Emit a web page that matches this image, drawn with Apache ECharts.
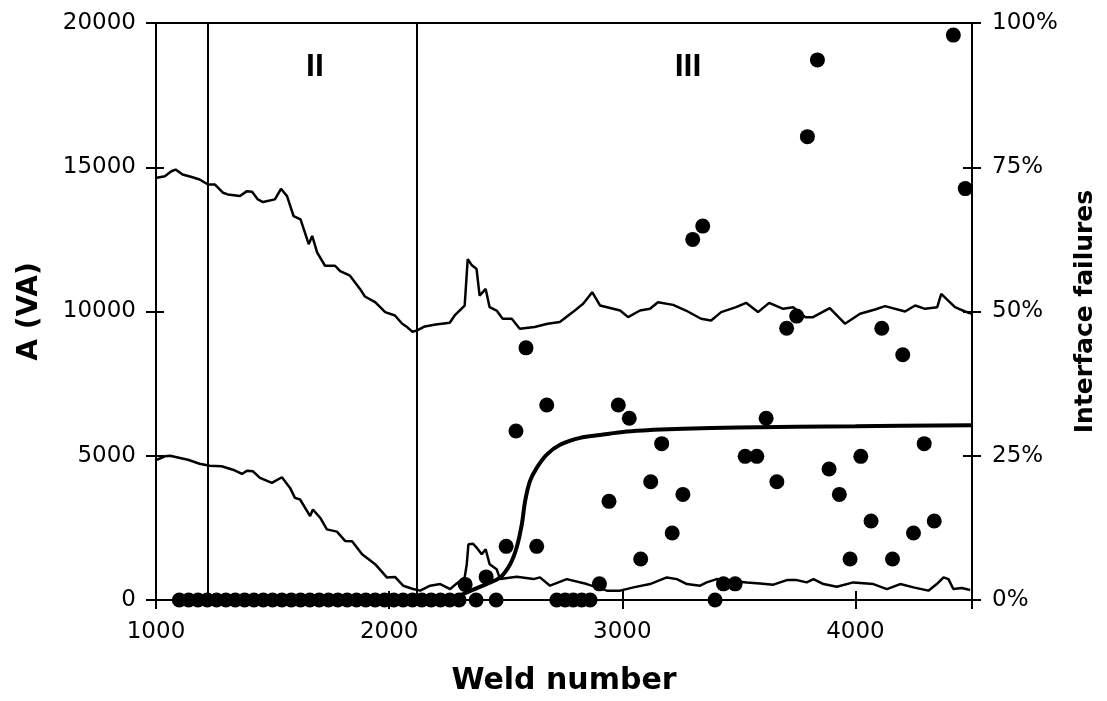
<!DOCTYPE html>
<html>
<head>
<meta charset="utf-8">
<script src="https://cdn.jsdelivr.net/npm/echarts@6/dist/echarts.min.js"></script>
<style>html,body{margin:0;padding:0;background:#fff;}#c{width:1107px;height:701px;}</style>
</head>
<body>
<div id="c"></div>
<script>
// ---- data ----
const xTicks = [1000, 2000, 3000, 4000];
const leftTicks = [0, 5000, 10000, 15000, 20000];
const rightTicks = ['0%', '25%', '50%', '75%', '100%'];

const regionBoundaries = [1224, 2120];
const regionLabels = ['II', 'III'];
const regionLabelX = [1682, 3282];
const regionLabelY = [18472, 18472];

// upper A trace (VA)
const upperA = [
 [1004,14634],[1038,14690],[1066,14862],[1084,14920],[1114,14748],[1157,14655],[1187,14576],[1223,14403],
 [1252,14403],[1287,14117],[1308,14059],[1360,14000],[1390,14172],[1412,14150],[1437,13886],[1459,13793],
 [1510,13886],[1536,14253],[1562,14000],[1590,13310],[1620,13195],[1655,12334],[1670,12620],[1691,12046],
 [1725,11586],[1768,11586],[1790,11400],[1832,11241],[1875,10783],[1896,10520],[1940,10323],[1983,9979],
 [2025,9862],[2056,9576],[2077,9460],[2100,9300],[2120,9345],[2153,9483],[2200,9550],[2260,9610],
 [2281,9862],[2324,10207],[2337,11817],[2355,11600],[2375,11472],[2388,10552],[2414,10783],[2431,10150],
 [2461,10034],[2487,9748],[2526,9748],[2560,9403],[2624,9460],[2680,9576],[2732,9633],[2788,9979],
 [2832,10266],[2871,10669],[2905,10207],[2991,10034],[3025,9805],[3076,10034],[3119,10093],[3153,10323],
 [3218,10230],[3273,10034],[3338,9748],[3381,9690],[3424,9979],[3488,10150],[3531,10300],[3582,9979],
 [3630,10300],[3690,10093],[3733,10150],[3785,9805],[3818,9805],[3890,10116],[3955,9576],[4020,9920],
 [4084,10070],[4127,10185],[4213,10000],[4256,10207],[4299,10093],[4351,10150],[4368,10610],[4398,10380],
 [4427,10150],[4470,10000],[4500,9920]
];

// lower A trace (VA)
const lowerA = [
 [1004,4862],[1038,4979],[1060,5000],[1137,4862],[1187,4724],[1230,4655],[1281,4634],[1330,4517],
 [1369,4369],[1390,4483],[1416,4460],[1446,4231],[1497,4059],[1540,4255],[1575,3886],[1596,3541],
 [1618,3483],[1661,2910],[1673,3138],[1704,2852],[1733,2448],[1776,2369],[1811,2048],[1841,2035],
 [1884,1586],[1940,1241],[1990,783],[2025,800],[2060,496],[2103,380],[2133,324],[2176,496],
 [2219,554],[2262,380],[2290,576],[2324,783],[2333,1241],[2340,1931],[2360,1950],[2375,1817],
 [2397,1586],[2414,1759],[2431,1241],[2461,1069],[2476,724],[2547,805],[2619,724],[2647,783],
 [2690,496],[2762,724],[2848,552],[2891,438],[2934,324],[2991,324],[3048,438],[3119,552],
 [3191,783],[3234,724],[3277,552],[3334,496],[3362,610],[3405,724],[3462,669],[3534,610],
 [3591,576],[3648,531],[3706,690],[3749,690],[3791,610],[3820,724],[3863,552],[3920,462],
 [3991,610],[4077,552],[4135,379],[4192,552],[4249,438],[4313,324],[4349,552],[4378,783],
 [4399,724],[4420,379],[4456,414],[4492,345]
];

// fitted failure curve (%)
const failureFit = [
 [2250,0],[2317,1.0],[2361,1.8],[2419,2.8],[2476,3.9],[2519,6.2],[2547,9.1],[2569,13.1],
 [2583,17.1],[2604,20.6],[2633,22.9],[2676,25.2],[2733,26.9],[2819,28.1],[2905,28.6],[3019,29.2],
 [3133,29.5],[3262,29.7],[3500,29.9],[4000,30.1],[4500,30.3]
];

// measured interface failures (%)
const failures = [
 [1100,0],[1140,0],[1180,0],[1220,0],[1260,0],[1300,0],[1340,0],[1380,0],[1420,0],[1460,0],
 [1500,0],[1540,0],[1580,0],[1620,0],[1660,0],[1700,0],[1740,0],[1780,0],[1820,0],[1860,0],
 [1900,0],[1940,0],[1980,0],[2020,0],[2060,0],[2100,0],[2140,0],[2180,0],[2220,0],[2260,0],[2300,0],
 [2326,2.7],[2373,0],[2416,4.0],[2459,0],[2502,9.3],[2544,29.3],[2587,43.7],[2633,9.3],[2676,33.8],
 [2719,0],[2755,0],[2790,0],[2826,0],[2862,0],[2902,2.8],[2943,17.1],[2983,33.8],[3030,31.5],
 [3079,7.1],[3122,20.5],[3169,27.1],[3214,11.6],[3260,18.3],[3302,62.5],[3345,64.8],[3398,0],
 [3434,2.8],[3484,2.8],[3527,24.9],[3577,24.9],[3617,31.5],[3663,20.5],[3705,47.1],[3748,49.2],
 [3794,80.3],[3837,93.6],[3887,22.7],[3931,18.3],[3977,7.1],[4023,24.9],[4067,13.7],[4113,47.1],
 [4159,7.1],[4203,42.5],[4249,11.6],[4295,27.1],[4338,13.7],[4420,97.9],[4471,71.3]
];

// ---- chart ----
const chart = echarts.init(document.getElementById('c'), null, {renderer: 'canvas'});
const black = '#000';
const labelFont = {fontFamily: 'DejaVu Sans', fontSize: 23, color: black};
function nameFont(size) { return {fontFamily: 'DejaVu Sans', fontSize: size, fontWeight: 'bold', color: black}; }
const xMin = xTicks[0], xMax = 4500, xStep = xTicks[1] - xTicks[0];
const yMax = leftTicks[leftTicks.length - 1], yStep = leftTicks[1] - leftTicks[0];

chart.setOption({
  animation: false,
  backgroundColor: '#fff',
  grid: {left: 156, right: 135, top: 23, bottom: 98, containLabel: false},
  xAxis: [
    {type: 'value', min: xMin, max: xMax, interval: xStep, position: 'bottom',
     axisLine: {show: true, onZero: false, lineStyle: {color: black, width: 2}},
     axisTick: {show: true, length: 9, lineStyle: {color: black, width: 2}},
     axisLabel: Object.assign({margin: 21, formatter: function (v) { return xTicks.indexOf(v) >= 0 ? String(v) : ''; }}, labelFont),
     splitLine: {show: false},
     name: 'Weld number', nameLocation: 'middle', nameGap: 66, nameTextStyle: nameFont(30)},
    {type: 'value', min: xMin, max: xMax, interval: xStep, position: 'bottom',
     axisLine: {show: false}, axisTick: {show: true, inside: true, length: 9, lineStyle: {color: black, width: 2}},
     axisLabel: {show: false}, splitLine: {show: false}},
    {type: 'value', min: xMin, max: xMax, position: 'top',
     axisLine: {show: true, onZero: false, lineStyle: {color: black, width: 2}},
     axisTick: {show: false}, axisLabel: {show: false}, splitLine: {show: false}}
  ],
  yAxis: [
    {type: 'value', min: 0, max: yMax, interval: yStep, position: 'left',
     axisLine: {show: true, onZero: false, lineStyle: {color: black, width: 2}},
     axisTick: {show: true, length: 10, lineStyle: {color: black, width: 2}},
     axisLabel: Object.assign({margin: 20, formatter: function (v) { return String(leftTicks[Math.round(v / yStep)]); }}, labelFont),
     splitLine: {show: false},
     name: 'A (VA)', nameLocation: 'middle', nameRotate: 90, nameGap: 112, nameTextStyle: nameFont(28)},
    {type: 'value', min: 0, max: 100, interval: 25, position: 'right',
     axisLine: {show: true, onZero: false, lineStyle: {color: black, width: 2}},
     axisTick: {show: true, length: 9, lineStyle: {color: black, width: 2}},
     axisLabel: Object.assign({margin: 20, formatter: function (v) { return rightTicks[Math.round(v / 25)]; }}, labelFont),
     splitLine: {show: false},
     name: 'Interface failures', nameLocation: 'middle', nameRotate: 90, nameGap: 101, nameTextStyle: nameFont(25)},
    {type: 'value', min: 0, max: yMax, interval: yStep, position: 'left',
     axisLine: {show: false}, axisTick: {show: true, inside: true, length: 8, lineStyle: {color: black, width: 2}},
     axisLabel: {show: false}, splitLine: {show: false}},
    {type: 'value', min: 0, max: 100, interval: 25, position: 'right',
     axisLine: {show: false}, axisTick: {show: true, inside: true, length: 9, lineStyle: {color: black, width: 2}},
     axisLabel: {show: false}, splitLine: {show: false}}
  ],
  series: [
    {type: 'line', name: 'upper', xAxisIndex: 0, yAxisIndex: 0, data: upperA, showSymbol: false, symbol: 'none',
     lineStyle: {color: black, width: 2.5}, z: 3,
     markLine: {silent: true, symbol: 'none', label: {show: false},
       lineStyle: {color: black, width: 2, type: 'solid'},
       data: regionBoundaries.map(function (x) { return {xAxis: x}; })}},
    {type: 'line', name: 'lower', xAxisIndex: 0, yAxisIndex: 0, data: lowerA, showSymbol: false, symbol: 'none',
     lineStyle: {color: black, width: 2.5}, z: 3},
    {type: 'scatter', name: 'failures', xAxisIndex: 0, yAxisIndex: 1, data: failures, symbol: 'circle', symbolSize: 15,
     itemStyle: {color: black, opacity: 1}, z: 4, clip: false},
    {type: 'line', name: 'fit', xAxisIndex: 0, yAxisIndex: 1, data: failureFit, showSymbol: false, symbol: 'none', smooth: 0.35,
     lineStyle: {color: black, width: 4}, z: 5},
    {type: 'scatter', name: 'regions', xAxisIndex: 0, yAxisIndex: 0, symbolSize: 1, itemStyle: {color: 'rgba(0,0,0,0)', opacity: 1},
     data: regionLabels.map(function (t, i) { return {name: t, value: [regionLabelX[i], regionLabelY[i]]}; }),
     label: {show: true, position: 'inside', formatter: '{b}', fontFamily: 'Liberation Sans', fontWeight: 'bold', fontSize: 32, color: black, opacity: 1}, z: 6}
  ]
});
</script>
</body>
</html>
